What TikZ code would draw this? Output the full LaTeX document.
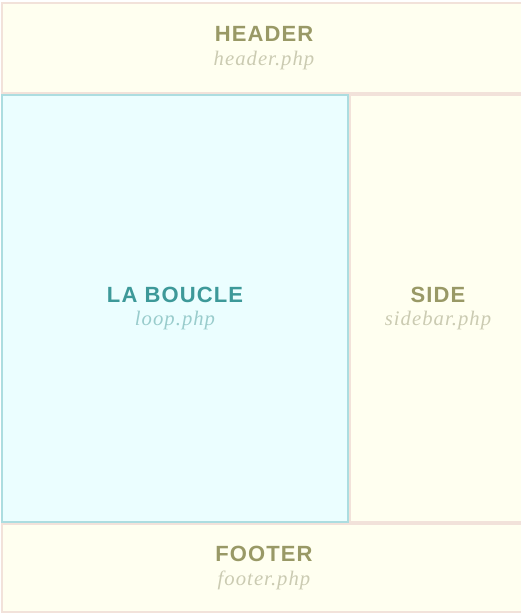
\documentclass[tikz,border=0pt]{standalone}
\usepackage{fontspec}
\usepackage{tikz}
\usetikzlibrary{positioning}
\setmainfont{Liberation Sans}
\newfontfamily\titlefont[LetterSpace=5]{Liberation Sans}
\newfontfamily\filefont[LetterSpace=5]{Liberation Serif}
\definecolor{cream}{HTML}{FFFFF0}
\definecolor{rose}{HTML}{F2E2DA}
\definecolor{lightcyan}{HTML}{EBFEFF}
\definecolor{cyanline}{HTML}{ACDDE0}
\definecolor{olive}{HTML}{999966}
\definecolor{paleolive}{HTML}{CBCBB2}
\definecolor{teal}{HTML}{3D9999}
\definecolor{paleteal}{HTML}{99CCCC}

\newcommand{\tpl}[4]{{\titlefont\bfseries\color{#1}\fontsize{16.5}{17.5}\selectfont #3}\\{\filefont\itshape\color{#2}\fontsize{15.5}{17.5}\selectfont #4}}

\begin{document}
\begin{tikzpicture}[x=0.75pt,y=-0.75pt,
  part/.style={draw=rose,fill=cream,line width=1.5pt,align=center,inner sep=0pt,
    font=\fontsize{15.5}{17.5}\selectfont},
  mainpart/.style={part,draw=cyanline,fill=lightcyan}]
\fill[white] (0,0) rectangle (521,614);
\useasboundingbox (0,0) rectangle (521,614);
\node[part,anchor=north west,minimum width=524*0.75pt,minimum height=90*0.75pt] (header) at (1,2)
  {\tpl{olive}{paleolive}{HEADER}{header.php}};
\node[mainpart,below right=0pt and 0pt of header.south west,anchor=north west,minimum width=346*0.75pt,minimum height=427*0.75pt] (loop)
  {\tpl{teal}{paleteal}{LA BOUCLE}{loop.php}};
\node[part,right=0pt of loop,minimum width=176*0.75pt,minimum height=427*0.75pt] (side)
  {\tpl{olive}{paleolive}{SIDE}{sidebar.php}};
\node[part,below right=0pt and 0pt of loop.south west,anchor=north west,minimum width=524*0.75pt,minimum height=88*0.75pt] (footer)
  {\tpl{olive}{paleolive}{FOOTER}{footer.php}};
\end{tikzpicture}
\end{document}
